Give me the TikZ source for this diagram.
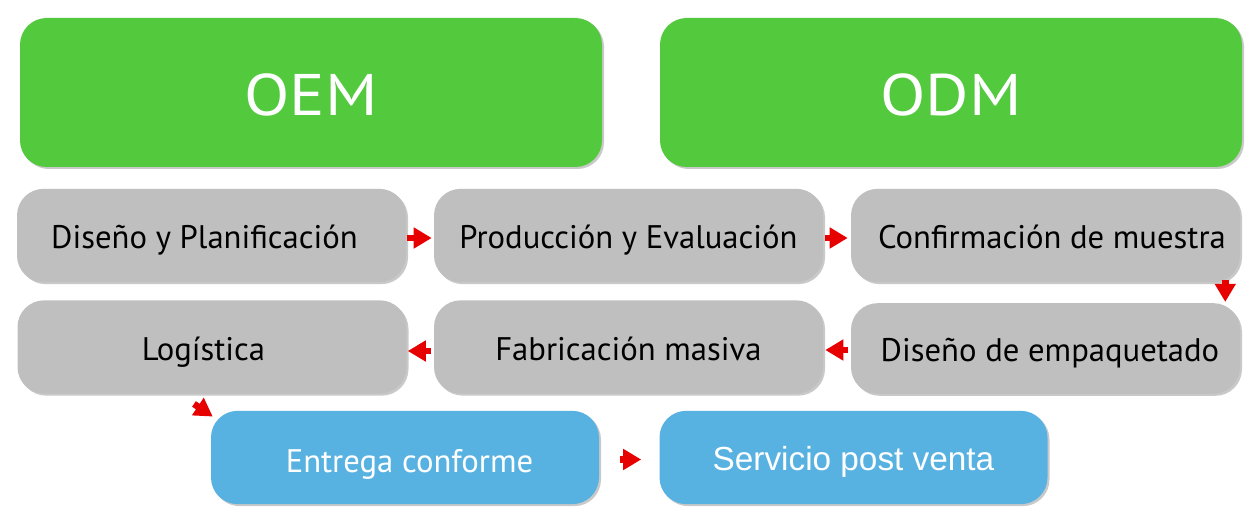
\documentclass[tikz,border=0pt]{standalone}
\usepackage{fontspec}
\setmainfont{PT Sans}
\newfontfamily\widefont[FakeStretch=1.13]{PT Sans}
\newfontfamily\helvfont{Liberation Sans}
\usetikzlibrary{arrows.meta,shadows,calc}
\definecolor{oemgreen}{RGB}{83,202,62}
\definecolor{boxgray}{RGB}{191,191,191}
\definecolor{boxblue}{RGB}{88,178,225}
\definecolor{arrred}{RGB}{230,0,0}
\begin{document}
\begin{tikzpicture}[x=0.75pt,y=-0.75pt,
  base/.style={rounded corners=20pt, inner sep=0pt, anchor=center, text depth=0pt,
    drop shadow={shadow xshift=1.5pt, shadow yshift=-1.5pt, opacity=0.35, fill=black!60}},
  head/.style={base, fill=oemgreen, text=white, minimum width=436.5pt, minimum height=111.75pt,
    font=\widefont\fontsize{44}{48}\selectfont, text height=33.8pt},
  step box/.style={base, fill=boxgray, text=black, minimum width=291.75pt, minimum height=70pt,
    font=\fontsize{24.5}{28}\selectfont, text height=20.2pt},
  blue box/.style={base, fill=boxblue, text=white, minimum width=291pt, minimum height=70pt,
    font=\fontsize{24.5}{28}\selectfont, text height=22pt},
  arr/.style={draw=arrred, line width=5pt, -{Triangle[length=13.5pt,width=15pt]}}]
\useasboundingbox (0,0) rectangle (1254,524);
\fill[white] (0,0) rectangle (1254,524);
\node[head] (oem) at (311,92.5) {OEM};
\node[head] (odm) at (951,92.5) {ODM};
\node[step box] (dis) at (211.5,235.5) {Diseño y Planificación\hspace*{10.5pt}};
\node[step box] (pro) at (628.5,235.5) {Producción y Evaluación};
\node[step box] (con) at (1045.5,235.5) {\hspace*{9.75pt}Confirmación de muestra};
\node[step box] (log) at (212,347) {Logística\hspace*{12.75pt}};
\node[step box] (fab) at (628.5,347) {Fabricación masiva};
\node[step box, minimum height=68pt] (emp) at (1045.5,348.5) {\hspace*{6.75pt}Diseño de empaquetado};
\node[blue box] (ent) at (405,457.5) {\hspace*{6.75pt}Entrega conforme};
\node[blue box, font=\helvfont\fontsize{25}{28}\selectfont, text height=19.1pt] (ser) at (853.5,457.5) {Servicio post venta};
\draw[arr] ($(dis.east)+(0.5,2.5)$) -- ($(pro.west)+(-2,2.5)$);
\draw[arr] ($(pro.east)+(2,2.5)$) -- ($(con.west)+(-3,2.5)$);
\draw[arr] ($(con.south east)+(-15,-2)$) -- ($(emp.north east)+(-15,-1)$);
\draw[arr] ($(fab.west)+(-3,4)$) -- ($(log.east)+(1,4)$);
\draw[arr] ($(emp.west)+(-3,1.5)$) -- ($(fab.east)+(2,3)$);
\draw[arr] ($(log.south)+(-18,10)$) -- ($(ent.north west)+(2,6)$);
\draw[arr] ($(ent.east)+(21,2)$) -- ($(ser.west)+(-18,2)$);
\end{tikzpicture}
\end{document}
